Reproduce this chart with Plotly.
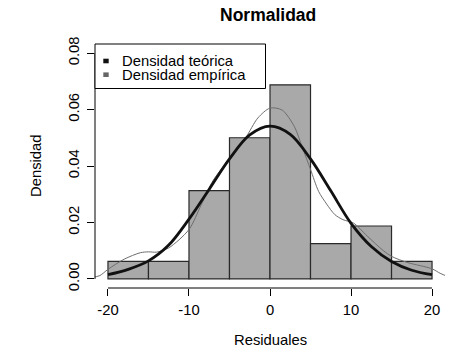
import plotly.graph_objects as go

# ---- data ----
bin_left = [-20, -15, -10, -5, 0, 5, 10, 15]
bin_width = 5
densidad_hist = [0.00625, 0.00625, 0.03125, 0.05, 0.06875, 0.0125, 0.01875, 0.00625]

teo_x = [-20, -17.5, -15, -12.5, -10, -7.5, -5, -2.5, 0, 2.5, 5, 7.5, 10, 12.5, 15, 17.5, 20]
teo_y = [0.0015, 0.0034, 0.0064, 0.0120, 0.0212, 0.0318, 0.0425, 0.0510, 0.0541, 0.0512, 0.0425, 0.0312, 0.0197, 0.0115, 0.0062, 0.0031, 0.0015]

emp_x = [-22, -21, -20, -18, -16, -15, -14, -12.5, -10, -8.5, -7, -5, -3, -1.5, 0, 1.5, 3, 4, 5,
         6, 7, 8, 9, 10.3, 12, 14, 15, 17, 20, 21, 22]
emp_y = [0.0005, 0.0012, 0.0034, 0.0070, 0.0093, 0.0096, 0.0095, 0.0110, 0.0175, 0.0262, 0.0350, 0.0425,
         0.0500, 0.0570, 0.0605, 0.0598, 0.0540, 0.0465, 0.0388, 0.0310, 0.0265, 0.0228, 0.0210, 0.0198,
         0.0152, 0.0100, 0.0080, 0.0058, 0.0036, 0.0020, 0.0008]

x_ticks = [-20, -10, 0, 10, 20]
x_tick_labels = ["-20", "-10", "0", "10", "20"]
y_ticks = [0.00, 0.02, 0.04, 0.06, 0.08]
y_tick_labels = ["0.00", "0.02", "0.04", "0.06", "0.08"]

legend_labels = ["Densidad teórica", "Densidad empírica"]
legend_colors = ["#111111", "#666666"]

FONT = "Liberation Sans, Arial, sans-serif"

bin_centers = [b + bin_width / 2 for b in bin_left]

fig = go.Figure()
fig.add_trace(go.Bar(
    x=bin_centers, y=densidad_hist, width=bin_width,
    marker=dict(color="#a9a9a9", line=dict(color="#2a2a2a", width=1.2)),
    showlegend=False, hoverinfo="skip"))
fig.add_trace(go.Scatter(
    x=emp_x, y=emp_y, mode="lines", line=dict(color="#6e6e6e", width=1, shape="spline", smoothing=0.8),
    showlegend=False, hoverinfo="skip"))
fig.add_trace(go.Scatter(
    x=teo_x, y=teo_y, mode="lines", line=dict(color="#111111", width=2.8, shape="spline", smoothing=1.0),
    showlegend=False, hoverinfo="skip"))

W, H = 468, 357
L_ref, T_ref, R_ref, B_ref = 95, 44, 445, 288
pw, ph = R_ref - L_ref, B_ref - T_ref

def px(xp):
    return (xp - L_ref) / pw

def py(yp):
    return 1 - (yp - T_ref) / ph

shapes = [
    # R-style axis lines
    dict(type="line", xref="x", yref="paper", x0=-20, x1=20, y0=0, y1=0,
         line=dict(color="black", width=1)),
    dict(type="line", xref="paper", yref="y", x0=0, x1=0, y0=0, y1=0.08,
         line=dict(color="black", width=1)),
    # legend box
    dict(type="rect", xref="paper", yref="paper", x0=px(95), x1=px(265.5), y0=py(88.5), y1=py(44),
         line=dict(color="black", width=1), fillcolor="white", layer="above"),
]
annotations = []
legend_rows = [61, 74.7]
for lab, col, yy in zip(legend_labels, legend_colors, legend_rows):
    shapes.append(dict(type="rect", xref="paper", yref="paper",
                       x0=px(103.3), x1=px(108.7), y0=py(yy + 2.3), y1=py(yy - 2.3),
                       line=dict(width=0), fillcolor=col, layer="above"))
    annotations.append(dict(text=lab, xref="paper", yref="paper", x=px(120.5), y=py(yy),
                            xanchor="left", yanchor="middle", showarrow=False, borderpad=0,
                            font=dict(size=14.8, color="black", family=FONT)))

annotations += [
    dict(text="<b>Normalidad</b>", xref="paper", yref="paper", x=px(268), y=py(15),
         xanchor="center", yanchor="middle", showarrow=False,
         font=dict(size=17.5, color="black", family=FONT)),
    dict(text="Residuales", xref="paper", yref="paper", x=px(270), y=py(340),
         xanchor="center", yanchor="middle", showarrow=False,
         font=dict(size=14.8, color="black", family=FONT)),
    dict(text="Densidad", xref="paper", yref="paper", x=px(36), y=py(166),
         xanchor="center", yanchor="middle", showarrow=False, textangle=-90,
         font=dict(size=14.8, color="black", family=FONT)),
]

fig.update_layout(
    width=W, height=H,
    margin=dict(l=L_ref, r=W - R_ref, t=T_ref, b=H - B_ref, autoexpand=False),
    paper_bgcolor="white", plot_bgcolor="white",
    showlegend=False, bargap=0, hovermode=False,
    shapes=shapes, annotations=annotations,
    xaxis=dict(range=[-21.6, 21.6], showgrid=False, zeroline=False, showline=False,
               automargin=False,
               tickmode="array", tickvals=x_ticks, ticktext=x_tick_labels,
               ticks="outside", ticklen=7,
               tickcolor="black", tickwidth=1, ticklabelstandoff=1,
               tickfont=dict(size=14.8, color="black", family=FONT)),
    yaxis=dict(range=[-0.0032, 0.0832], showgrid=False, zeroline=False, showline=False,
               automargin=False,
               tickmode="array", tickvals=y_ticks, ticktext=y_tick_labels,
               ticks="outside", ticklen=7, tickcolor="black", tickwidth=1,
               tickangle=-90, ticklabelstandoff=2,
               tickfont=dict(size=14.8, color="black", family=FONT)),
)

fig.write_html("out.html",
               config={"displayModeBar": False, "staticPlot": True},
               post_script="document.body.style.margin='0';document.body.style.overflow='hidden';")
